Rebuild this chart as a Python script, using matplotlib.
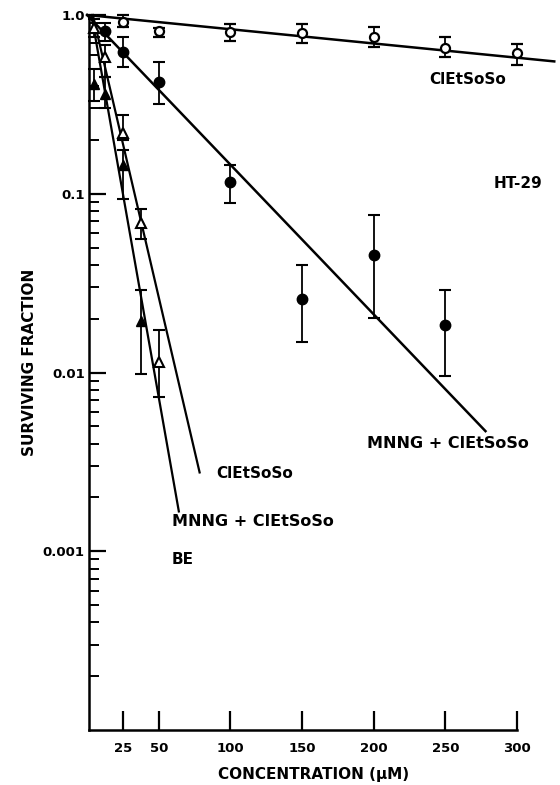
import numpy as np
import matplotlib.pyplot as plt
from matplotlib.ticker import FixedLocator, LogLocator, NullFormatter

plt.rcParams['font.family'] = ['DejaVu Sans']
plt.rcParams['font.weight'] = 'bold'

# ClEtSoSo alone (open circles)
x_cl = [25, 50, 100, 150, 200, 250, 300]
y_cl = [0.914, 0.817, 0.80, 0.793, 0.754, 0.654, 0.613]
lo_cl = [0.857, 0.753, 0.72, 0.698, 0.663, 0.583, 0.526]
hi_cl = [1.0, 0.85, 0.89, 0.891, 0.857, 0.754, 0.689]
fit_cl_x = [0, 326]
fit_cl_y = [1.0, 0.55]

# MNNG + ClEtSoSo (filled circles)
x_mc = [12.5, 25, 50, 100, 150, 200, 250]
y_mc = [0.81, 0.62, 0.42, 0.117, 0.0259, 0.0456, 0.0185]
lo_mc = [0.72, 0.51, 0.318, 0.089, 0.0149, 0.0203, 0.0095]
hi_mc = [0.90, 0.75, 0.546, 0.145, 0.040, 0.076, 0.029]
fit_mc_x = [0, 278]
fit_mc_y = [1.0, 0.0047]

# ClEtSoSo, steep (open triangles)
x_ct = [5, 12.5, 25, 37.5, 50]
y_ct = [0.85, 0.58, 0.219, 0.069, 0.0115]
lo_ct = [0.75, 0.45, 0.20, 0.056, 0.0073]
hi_ct = [0.95, 0.68, 0.276, 0.082, 0.0174]
fit_ct_x = [4, 78.5]
fit_ct_y = [1.0, 0.00276]

# MNNG + ClEtSoSo BE (filled triangles)
x_be = [5, 12.5, 25, 37.5]
y_be = [0.41, 0.36, 0.145, 0.0193]
lo_be = [0.33, 0.30, 0.093, 0.0098]
hi_be = [0.50, 0.45, 0.175, 0.029]
fit_be_x = [3, 64]
fit_be_y = [1.0, 0.00167]

x_ticks = [25, 50, 100, 150, 200, 250, 300]
y_ticks = [0.001, 0.01, 0.1, 1.0]
y_labels = ['0.001', '0.01', '0.1', '1.0']

fig = plt.figure(figsize=(5.6, 7.85), dpi=100)
ax = fig.add_axes([89/560, 1 - 730/785, (517 - 89)/560, (730 - 15)/785])
ax.set_yscale('log')
ax.set_xlim(1.3, 300)
ax.set_ylim(1e-4, 1.0)


def errs(y, lo, hi):
    y = np.array(y)
    return [y - np.array(lo), np.array(hi) - y]


eb = dict(ecolor='black', elinewidth=1.3, capsize=4.5, capthick=1.5,
          linestyle='none', clip_on=False, zorder=3)

ax.plot(fit_cl_x, fit_cl_y, color='black', lw=1.8, clip_on=False)
ax.plot(fit_mc_x, fit_mc_y, color='black', lw=1.8, clip_on=False)
ax.plot(fit_ct_x, fit_ct_y, color='black', lw=1.6, clip_on=False)
ax.plot(fit_be_x, fit_be_y, color='black', lw=1.6, clip_on=False)

ax.errorbar(x_cl, y_cl, yerr=errs(y_cl, lo_cl, hi_cl), marker='o', ms=6.5,
            mfc='white', mec='black', mew=1.6, **eb)
ax.errorbar(x_mc, y_mc, yerr=errs(y_mc, lo_mc, hi_mc), marker='o', ms=7.5,
            mfc='black', mec='black', **eb)
ax.errorbar(x_ct, y_ct, yerr=errs(y_ct, lo_ct, hi_ct), marker='^', ms=7.5,
            mfc='white', mec='black', mew=1.5, **eb)
ax.errorbar(x_be, y_be, yerr=errs(y_be, lo_be, hi_be), marker='^', ms=7.5,
            mfc='black', mec='black', **eb)

for side in ['top', 'right']:
    ax.spines[side].set_visible(False)
for side in ['left', 'bottom']:
    ax.spines[side].set_linewidth(1.8)

ax.xaxis.set_major_locator(FixedLocator(x_ticks))
ax.set_xticklabels([str(v) for v in x_ticks], fontsize=9.5, fontweight='bold')
ax.yaxis.set_major_locator(FixedLocator(y_ticks))
ax.set_yticklabels(y_labels, fontsize=9.5, fontweight='bold')
ax.yaxis.set_minor_locator(LogLocator(base=10, subs=np.arange(2, 10)))
ax.yaxis.set_minor_formatter(NullFormatter())
ax.tick_params(axis='x', direction='in', length=14, width=1.6, pad=9)
ax.tick_params(axis='y', which='major', direction='in', length=12, width=1.6, pad=3)
ax.tick_params(axis='y', which='minor', direction='in', length=7, width=1.4)

fig.text(314/560, 1 - 775/785, 'CONCENTRATION (\u03bcM)', ha='center', va='center',
         fontsize=11, fontweight='bold')
fig.text(30/560, 1 - 362/785, 'SURVIVING FRACTION', ha='center', va='center',
         rotation=90, fontsize=11, fontweight='bold')

lab = dict(ha='center', va='center', fontsize=11, fontweight='bold')
fig.text(468/560, 1 - 80/785, 'ClEtSoSo', **lab)
fig.text(518/560, 1 - 183/785, 'HT-29', **lab)
fig.text(448/560, 1 - 443/785, 'MNNG + ClEtSoSo', ha='center', va='center',
         fontsize=11.5, fontweight='bold')
fig.text(255/560, 1 - 473/785, 'ClEtSoSo', **lab)
fig.text(253/560, 1 - 522/785, 'MNNG + ClEtSoSo', ha='center', va='center',
         fontsize=11.5, fontweight='bold')
fig.text(172/560, 1 - 560/785, 'BE', ha='left', va='center', fontsize=11,
         fontweight='bold')

fig.savefig('out.png', dpi=100)
